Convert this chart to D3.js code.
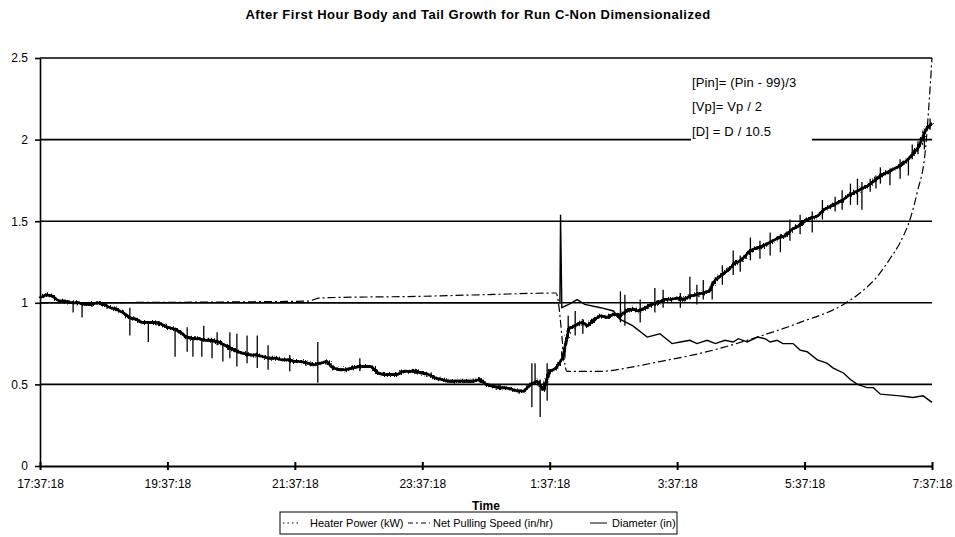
<!DOCTYPE html>
<html>
<head>
<meta charset="utf-8">
<script src="https://cdn.jsdelivr.net/npm/d3@7"></script>
<style>
  body { margin: 0; background: #fff; }
  svg { display: block; }
  text { font-family: "Liberation Sans", Arial, sans-serif; fill: #000; }
</style>
</head>
<body>
<svg id="chart" width="955" height="537"></svg>
<script>
// Time axis: hours elapsed since 17:37:18
const xTickHours = [0, 2, 4, 6, 8, 10, 12, 14];
const xTickLabels = ["17:37:18", "19:37:18", "21:37:18", "23:37:18", "1:37:18", "3:37:18", "5:37:18", "7:37:18"];
const yTicks = [0, 0.5, 1, 1.5, 2, 2.5];

// Heater power [Pin], sampled every 0.1 h
const heaterStep = 0.1;
const heaterPower = [
  1.03, 1.05, 1.04, 1.01, 1.01, 1.00, 1.00, 0.99, 0.99, 1.00,
  0.99, 0.97, 0.96, 0.94, 0.91, 0.90, 0.88, 0.88, 0.88, 0.87,
  0.85, 0.84, 0.82, 0.79, 0.78, 0.78, 0.77, 0.77, 0.76, 0.74,
  0.72, 0.70, 0.69, 0.68, 0.68, 0.67, 0.66, 0.66, 0.65, 0.65,
  0.64, 0.64, 0.63, 0.62, 0.63, 0.64, 0.60, 0.59, 0.59, 0.60,
  0.61, 0.61, 0.61, 0.57, 0.56, 0.56, 0.56, 0.58, 0.58, 0.58,
  0.57, 0.56, 0.54, 0.53, 0.52, 0.52, 0.52, 0.52, 0.52, 0.53,
  0.50, 0.49, 0.48, 0.48, 0.47, 0.46, 0.46, 0.50, 0.52, 0.47,
  0.58, 0.60, 0.66, 0.84, 0.86, 0.88, 0.86, 0.90, 0.92, 0.91,
  0.93, 0.92, 0.95, 0.96, 0.95, 0.97, 0.99, 1.00, 1.02, 1.02,
  1.03, 1.02, 1.04, 1.05, 1.06, 1.07, 1.14, 1.17, 1.20, 1.24,
  1.26, 1.30, 1.33, 1.34, 1.36, 1.38, 1.40, 1.41, 1.45, 1.47,
  1.50, 1.52, 1.53, 1.57, 1.59, 1.61, 1.63, 1.66, 1.68, 1.70,
  1.72, 1.75, 1.78, 1.80, 1.82, 1.84, 1.87, 1.91, 1.96, 2.06,
  2.10
];

// Short excursions of the heater trace: time (h), low and high value
const spikeHours = [0.52, 0.66, 1.41, 1.70, 2.12, 2.31, 2.40, 2.54, 2.57, 2.70, 2.78, 2.87, 2.98, 3.09, 3.25, 3.41, 3.58, 3.92, 4.36, 5.02,
  7.72, 7.77, 7.85, 7.96, 8.24, 8.29, 8.40, 8.52, 9.11, 9.18, 9.42, 9.65, 9.78, 10.05, 10.20, 10.31, 10.41, 10.55, 10.71, 10.88,
  10.99, 11.15, 11.30, 11.46, 11.62, 11.77, 11.93, 12.12, 12.28, 12.48, 12.59, 12.72, 12.83, 12.90, 13.03, 13.12, 13.19, 13.34, 13.50, 13.63,
  13.69, 13.78, 13.88, 13.97];
const spikeLow = [0.94, 0.91, 0.80, 0.76, 0.67, 0.70, 0.67, 0.67, 0.76, 0.66, 0.74, 0.64, 0.66, 0.61, 0.63, 0.60, 0.59, 0.58, 0.51, 0.58,
  0.36, 0.50, 0.30, 0.40, 0.67, 0.79, 0.80, 0.81, 0.88, 0.86, 0.88, 0.94, 0.97, 0.97, 1.02, 0.99, 1.02, 1.02, 1.11, 1.17,
  1.19, 1.26, 1.27, 1.29, 1.31, 1.38, 1.42, 1.43, 1.51, 1.56, 1.57, 1.60, 1.60, 1.57, 1.68, 1.70, 1.73, 1.72, 1.76, 1.78,
  1.88, 1.91, 1.94, 2.06];
const spikeHigh = [1.00, 1.00, 0.97, 0.88, 0.84, 0.85, 0.79, 0.78, 0.86, 0.77, 0.82, 0.75, 0.82, 0.81, 0.80, 0.80, 0.74, 0.68, 0.76, 0.66,
  0.63, 0.63, 0.53, 0.63, 0.73, 0.92, 0.95, 0.90, 1.07, 1.05, 1.02, 1.09, 1.08, 1.06, 1.16, 1.11, 1.14, 1.13, 1.23, 1.32,
  1.29, 1.40, 1.38, 1.43, 1.42, 1.51, 1.54, 1.56, 1.63, 1.65, 1.69, 1.73, 1.76, 1.74, 1.76, 1.78, 1.83, 1.81, 1.88, 1.89,
  1.97, 1.99, 2.06, 2.13];

// Net pulling speed [Vp]
const speedHours  = [0, 4.2, 4.4, 6.0, 7.0, 8.10, 8.27, 8.79, 9.34, 9.73, 10.36, 11.26, 11.93, 12.61, 12.87, 13.16, 13.34, 13.50, 13.67, 13.77, 13.90, 13.95, 14.0];
const speedValues = [1.00, 1.01, 1.03, 1.04, 1.05, 1.06, 0.58, 0.58, 0.61, 0.64, 0.69, 0.79, 0.88, 0.99, 1.06, 1.17, 1.27, 1.37, 1.53, 1.68, 1.95, 2.20, 2.50];

// Diameter [D]
const diameterHours  = [0, 8.16, 8.17, 8.19, 8.30, 8.43, 8.55, 8.80, 9.00, 9.10, 9.30, 9.53, 9.73, 9.92, 10.05, 10.20, 10.31, 10.47, 10.60, 10.75,
  10.88, 10.96, 11.10, 11.26, 11.38, 11.46, 11.57, 11.66, 11.82, 11.93, 12.04, 12.20, 12.35, 12.45, 12.61, 12.72, 12.83, 12.98, 13.08, 13.19,
  13.50, 13.70, 13.86, 14.0];
const diameterValues = [1.00, 1.00, 1.54, 0.97, 0.99, 1.02, 0.99, 0.97, 0.95, 0.90, 0.86, 0.79, 0.81, 0.75, 0.76, 0.77, 0.75, 0.77, 0.75, 0.77,
  0.76, 0.78, 0.76, 0.79, 0.78, 0.76, 0.77, 0.75, 0.75, 0.71, 0.70, 0.65, 0.63, 0.60, 0.57, 0.53, 0.50, 0.48, 0.48, 0.44,
  0.43, 0.42, 0.43, 0.39];

const legendNames = ["Heater Power (kW)", "Net Pulling Speed (in/hr)", "Diameter (in)"];
const notes = ["[Pin]= (Pin - 99)/3", "[Vp]= Vp / 2", "[D] = D / 10.5"];
const titleText = "After First Hour Body and Tail Growth for Run C-Non Dimensionalized";

const svg = d3.select("#chart");
const x = d3.scaleLinear().domain([0, 14]).range([40, 932]);
const y = d3.scaleLinear().domain([0, 2.5]).range([466, 58]);

// rough-pen effect for the densely sampled heater trace
const defs = svg.append("defs");
const rough = defs.append("filter").attr("id", "rough")
  .attr("x", "-5%").attr("y", "-20%").attr("width", "110%").attr("height", "140%");
rough.append("feTurbulence").attr("type", "fractalNoise").attr("baseFrequency", "0.9 0.25")
  .attr("numOctaves", 2).attr("seed", 3).attr("result", "noise");
rough.append("feDisplacementMap").attr("in", "SourceGraphic").attr("in2", "noise")
  .attr("scale", 5).attr("xChannelSelector", "R").attr("yChannelSelector", "G");

// horizontal gridlines
svg.append("g").selectAll("line").data(yTicks.filter(d => d > 0)).join("line")
  .attr("x1", x(0)).attr("x2", x(14))
  .attr("y1", d => y(d)).attr("y2", d => y(d))
  .attr("stroke", "#000").attr("stroke-width", 1.6);

// note box with the scaling definitions
const noteBox = svg.append("g");
noteBox.append("rect").attr("x", 691).attr("y", 64).attr("width", 121).attr("height", 80).attr("fill", "#fff");
noteBox.selectAll("text").data(notes).join("text")
  .attr("x", 692).attr("y", (d, i) => [82, 106, 131][i])
  .attr("dominant-baseline", "central")
  .style("font-size", "13px").style("letter-spacing", "0.15px")
  .text(d => d);

// diameter
svg.append("path")
  .datum(diameterHours.map((h, i) => [h, diameterValues[i]]))
  .attr("fill", "none").attr("stroke", "#000").attr("stroke-width", 1.4)
  .attr("d", d3.line().x(d => x(d[0])).y(d => y(d[1])));

// net pulling speed
svg.append("path")
  .datum(speedHours.map((h, i) => [h, speedValues[i]]))
  .attr("fill", "none").attr("stroke", "#000").attr("stroke-width", 1.2)
  .attr("stroke-dasharray", "8,3,2,3")
  .attr("d", d3.line().curve(d3.curveMonotoneX).x(d => x(d[0])).y(d => y(d[1])));

// heater power: solid core plus a roughened copy for the noisy band
const heaterPoints = heaterPower.map((v, i) => [i * heaterStep, v]);
const heaterLine = d3.line().x(d => x(d[0])).y(d => y(d[1]));
svg.append("path").datum(heaterPoints)
  .attr("fill", "none").attr("stroke", "#000").attr("stroke-width", 2.6)
  .attr("stroke-linejoin", "round").attr("d", heaterLine);
svg.append("g").attr("filter", "url(#rough)").append("path").datum(heaterPoints)
  .attr("fill", "none").attr("stroke", "#000").attr("stroke-width", 3)
  .attr("stroke-linejoin", "round").attr("d", heaterLine);
svg.append("g").selectAll("line").data(spikeHours).join("line")
  .attr("x1", d => x(d)).attr("x2", d => x(d))
  .attr("y1", (d, i) => y(spikeLow[i])).attr("y2", (d, i) => y(spikeHigh[i]))
  .attr("stroke", "#000").attr("stroke-width", 1.3);

// axes
const yAxis = svg.append("g").attr("transform", `translate(${x(0)},0)`)
  .call(d3.axisLeft(y).tickValues(yTicks).tickSize(5).tickSizeOuter(0).tickPadding(7).tickFormat(d => String(d)));
yAxis.selectAll("text").style("font-size", "12px");
yAxis.selectAll("line, path").attr("stroke", "#000").attr("stroke-width", 1.6);

const xAxis = svg.append("g").attr("transform", `translate(0,${y(0)})`)
  .call(d3.axisBottom(x).tickValues(xTickHours).tickSize(4).tickSizeOuter(0).tickPadding(9).tickFormat((d, i) => xTickLabels[i]));
xAxis.selectAll(".tick line").attr("y1", -4);
xAxis.selectAll("text").style("font-size", "12px");
xAxis.selectAll("line, path").attr("stroke", "#000").attr("stroke-width", 2);

// titles
svg.append("text").attr("x", 478).attr("y", 14).attr("text-anchor", "middle")
  .attr("dominant-baseline", "central").style("font-size", "13px").style("font-weight", "bold")
  .style("letter-spacing", "0.5px")
  .text(titleText);
svg.append("text").attr("x", 486).attr("y", 506).attr("text-anchor", "middle")
  .attr("dominant-baseline", "central").style("font-size", "12px").style("font-weight", "bold")
  .text("Time");

// legend
const legend = svg.append("g");
legend.append("rect").attr("x", 280).attr("y", 512).attr("width", 397).attr("height", 22)
  .attr("fill", "#fff").attr("stroke", "#000").attr("stroke-width", 1);
const sampleX = [283, 408, 590];
const sampleW = [18, 22, 17];
const textX = [310, 433, 612];
const sampleDash = ["1.5,3", "5,3,2,3", null];
legendNames.forEach((name, i) => {
  legend.append("line").attr("x1", sampleX[i]).attr("x2", sampleX[i] + sampleW[i])
    .attr("y1", 523).attr("y2", 523).attr("stroke", "#000").attr("stroke-width", 1)
    .attr("stroke-dasharray", sampleDash[i]);
  legend.append("text").attr("x", textX[i]).attr("y", 523).attr("dominant-baseline", "central")
    .style("font-size", "11px").text(name);
});
</script>
</body>
</html>
